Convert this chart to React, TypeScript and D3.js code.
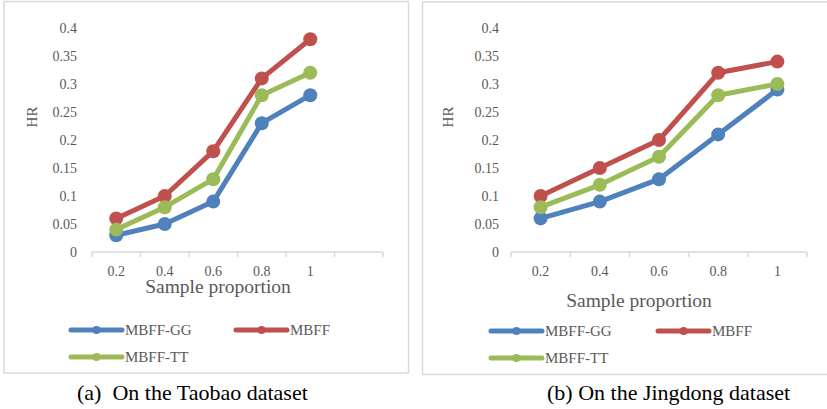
import React from "react";
import * as d3 from "d3";

// sample proportions on the x axis
const proportions = ["0.2", "0.4", "0.6", "0.8", "1"];
const yTicks = [0, 0.05, 0.1, 0.15, 0.2, 0.25, 0.3, 0.35, 0.4];

// Taobao
const taobaoGG = [0.03, 0.05, 0.09, 0.23, 0.28];
const taobaoMBFF = [0.06, 0.1, 0.18, 0.31, 0.38];
const taobaoTT = [0.04, 0.08, 0.13, 0.28, 0.32];

// Jingdong
const jingdongGG = [0.06, 0.09, 0.13, 0.21, 0.29];
const jingdongMBFF = [0.1, 0.15, 0.2, 0.32, 0.34];
const jingdongTT = [0.08, 0.12, 0.17, 0.28, 0.3];

const seriesNames = ["MBFF-GG", "MBFF", "MBFF-TT"];
const colors = ["#4F81BD", "#C0504D", "#9BBB59"];
const captions = ["(a)  On the Taobao dataset", "(b) On the Jingdong dataset"];

const textColor = "#595959";
const gridColor = "#D9D9D9";
const font = "Liberation Serif, DejaVu Serif, serif";

type PanelProps = {
  box: [number, number, number, number];
  categories: string[];
  xRange: [number, number];
  labelRight: number;
  hrX: number;
  series: number[][];
  titleY: number;
  titleX: number;
  legendX: number[];
  legendY: number[];
  caption: string;
  captionX: number;
};

const Panel = ({
  box,
  categories,
  xRange,
  labelRight,
  hrX,
  series,
  titleY,
  titleX,
  legendX,
  legendY,
  caption,
  captionX,
}: PanelProps) => {
  const x = d3.scaleBand<string>().domain(categories).range(xRange).padding(0);
  const y = d3.scaleLinear().domain([0, 0.4]).range([252, 28]);
  const line = d3
    .line<number>()
    .x((_, i) => x(proportions[i])! + x.bandwidth() / 2)
    .y((d) => y(d));

  const boundaries = d3.range(categories.length + 1).map((i) => xRange[0] + i * x.step());

  return (
    <g fontFamily={font}>
      <rect
        x={box[0]}
        y={box[1]}
        width={box[2]}
        height={box[3]}
        fill="#fff"
        stroke={gridColor}
        strokeWidth={1.5}
      />
      {/* y tick labels */}
      {yTicks.map((t) => (
        <text
          key={t}
          x={labelRight}
          y={y(t)}
          dy="0.35em"
          textAnchor="end"
          fontSize={14}
          fill={textColor}
        >
          {t}
        </text>
      ))}
      <text
        transform={`translate(${hrX},117) rotate(-90)`}
        textAnchor="middle"
        dy="0.35em"
        fontSize={15}
        fill={textColor}
      >
        HR
      </text>
      {/* x axis */}
      <line x1={xRange[0]} x2={xRange[1]} y1={y(0)} y2={y(0)} stroke={gridColor} strokeWidth={1.5} />
      {boundaries.map((b, i) => (
        <line key={i} x1={b} x2={b} y1={y(0)} y2={y(0) + 5} stroke={gridColor} strokeWidth={1.5} />
      ))}
      {proportions.map((p) => (
        <text
          key={p}
          x={x(p)! + x.bandwidth() / 2}
          y={271}
          dy="0.35em"
          textAnchor="middle"
          fontSize={14}
          fill={textColor}
        >
          {p}
        </text>
      ))}
      <text x={titleX} y={titleY} textAnchor="middle" fontSize={19.5} fill={textColor}>
        Sample proportion
      </text>
      {series.map((s, i) => (
        <g key={i}>
          <path
            d={line(s)!}
            fill="none"
            stroke={colors[i]}
            strokeWidth={5}
            strokeLinejoin="round"
          />
          {s.map((v, j) => (
            <circle
              key={j}
              cx={x(proportions[j])! + x.bandwidth() / 2}
              cy={y(v)}
              r={7}
              fill={colors[i]}
            />
          ))}
        </g>
      ))}
      {/* legend */}
      {seriesNames.map((name, i) => {
        const lx = legendX[i % 2];
        const ly = legendY[Math.floor(i / 2)];
        return (
          <g key={name}>
            <line x1={lx} x2={lx + 51} y1={ly} y2={ly} stroke={colors[i]} strokeWidth={5} strokeLinecap="round" />
            <circle cx={lx + 25.5} cy={ly} r={4} fill={colors[i]} />
            <text x={lx + 54} y={ly} dy="0.35em" fontSize={15} fill={textColor}>
              {name}
            </text>
          </g>
        );
      })}
      <text x={captionX} y={400} fontSize={22} fill="#000" style={{ whiteSpace: "pre" }}>
        {caption}
      </text>
    </g>
  );
};

const App = () => {
  return (
    <svg
      width={827}
      height={409}
      style={{ position: "absolute", left: 0, top: 0, background: "#fff" }}
    >
      <Panel
        box={[4, 1.5, 404.5, 371.5]}
        categories={[...proportions, ""]}
        xRange={[92, 383]}
        labelRight={77}
        hrX={32}
        series={[taobaoGG, taobaoMBFF, taobaoTT]}
        titleX={218}
        titleY={293}
        legendX={[71, 236]}
        legendY={[330, 357]}
        caption={captions[0]}
        captionX={77}
      />
      <Panel
        box={[422.5, 2, 410, 372.5]}
        categories={proportions}
        xRange={[511, 807]}
        labelRight={499}
        hrX={448}
        series={[jingdongGG, jingdongMBFF, jingdongTT]}
        titleX={639}
        titleY={307}
        legendX={[491, 658]}
        legendY={[331, 358]}
        caption={captions[1]}
        captionX={547}
      />
    </svg>
  );
};

export default App;
